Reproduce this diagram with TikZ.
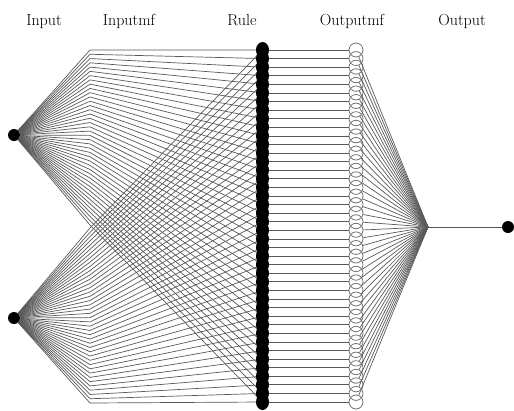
\documentclass[tikz,border=0pt]{standalone}
\begin{document}
\begin{tikzpicture}[x=1pt, y=-1pt,
    link/.style={draw=black!65, line width=0.7pt},
    iodot/.style={circle, fill=black, inner sep=0pt, minimum size=12pt},
    rulenode/.style={circle, inner sep=0pt, minimum size=13pt},
    outmf/.style={circle, draw=black!55, line width=0.8pt, inner sep=0pt, minimum size=14pt},
    layer/.style={font=\fontsize{16}{16}\selectfont, anchor=base}]
  \useasboundingbox (0,0) rectangle (514,410);
  % layer titles
  \node[layer] (tin) at (44,25) {Input};
  \node[layer] (tinmf) at (129,25) {Inputmf};
  \node[layer] (trule) at (242,25) {Rule};
  \node[layer] (toutmf) at (352,25) {Outputmf};
  \node[layer] (tout) at (462,25) {Output};
  % inputs and output
  \node[iodot] (in1) at (14,135) {};
  \node[iodot] (in2) at (14,318) {};
  \coordinate (sum) at (428,227);
  \node[iodot] (out) at (508,227) {};
  % mf points, rules, output mfs
  \foreach \i in {0,...,41} {
    \coordinate (a\i) at (90,{50+\i*175/41});
    \coordinate (b\i) at (90,{228+\i*175/41});
    \node[rulenode] (r\i) at (262.5,{50+\i*352/41}) {};
    \node[outmf] (o\i) at (356,{50+\i*352/41}) {};
  }
  \foreach \i in {0,...,41} {
    \draw[link] (in1) -- (a\i) -- (r\i.center);
    \draw[link] (in2) -- (b\i) -- (r\i.center);
    \draw[link] (r\i) -- (o\i);
    \draw[link] (o\i) -- (sum);
  }
  \draw[link] (sum) -- (out);
  \foreach \i in {0,...,41}
    \fill (r\i.center) ellipse[x radius=6.5pt, y radius=8pt];
\end{tikzpicture}
\end{document}
